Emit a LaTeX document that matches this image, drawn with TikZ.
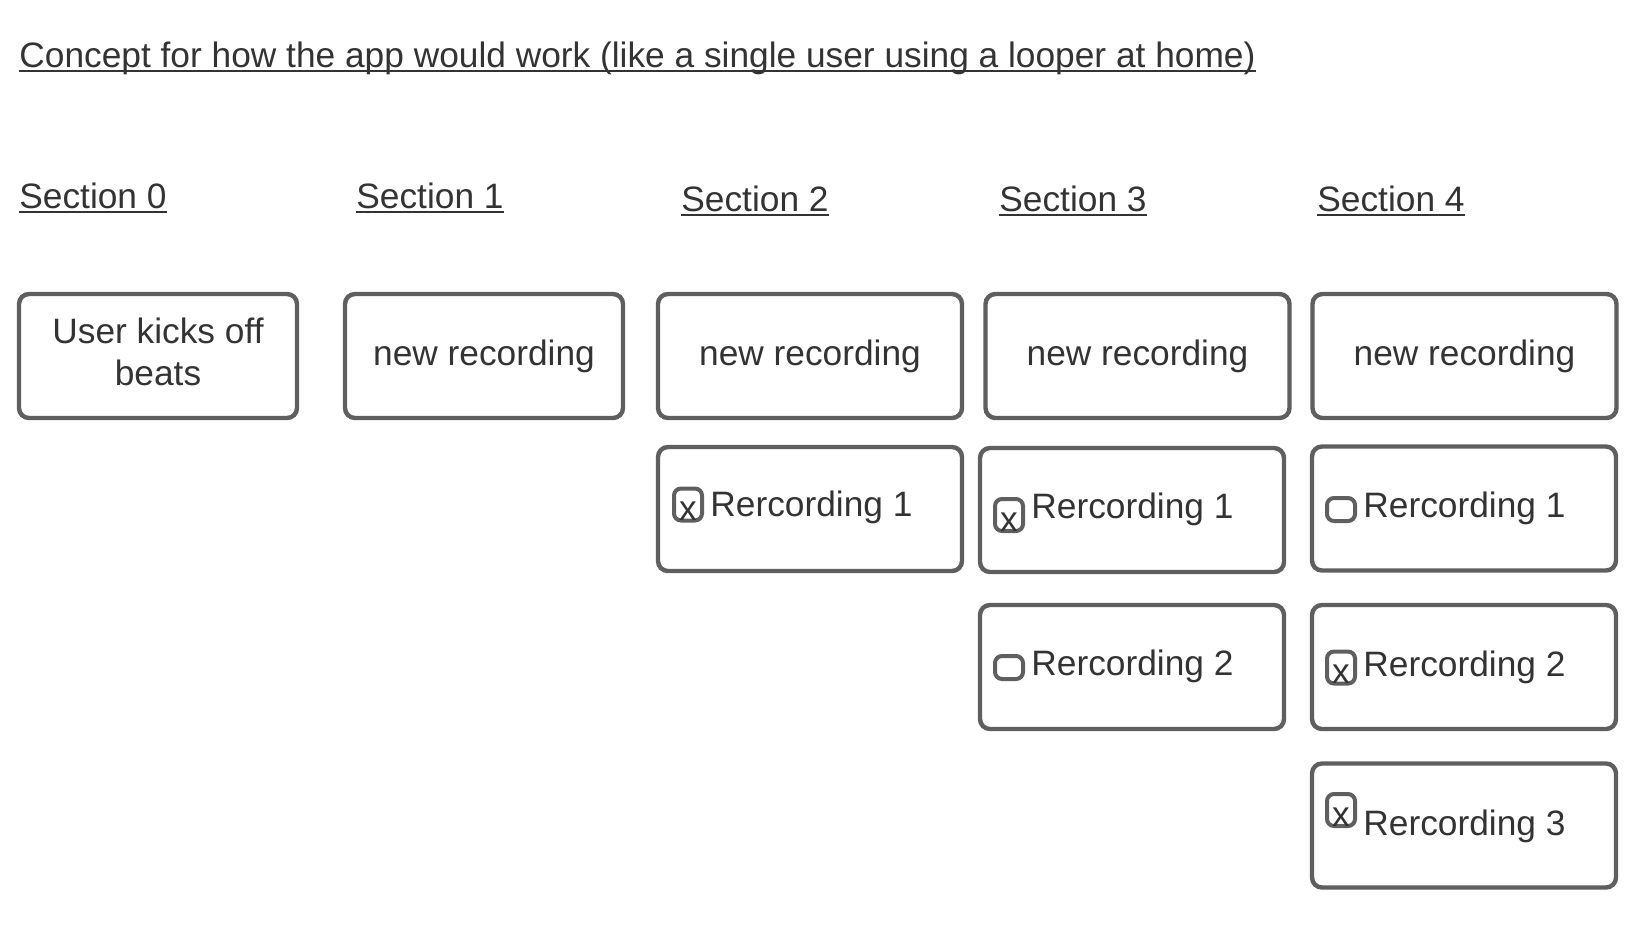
\documentclass[tikz,border=0pt]{standalone}
\usepackage{fontspec}
\setmainfont{Liberation Sans}
\usetikzlibrary{positioning}

\definecolor{ink}{HTML}{333333}
\definecolor{edge}{HTML}{5F5F5F}
\newcommand{\hdr}[1]{\setbox0\hbox{#1}\rlap{\rule[-2.6pt]{\wd0}{1pt}}\box0}

\begin{document}
\begin{tikzpicture}[x=0.5pt, y=-0.5pt,
  every node/.style={font=\fontsize{17.65pt}{21pt}\selectfont, text=ink},
  box/.style={draw=edge, line width=2.2pt, rounded corners=5pt, minimum width=139pt, minimum height=62pt, align=center},
  wide/.style={box, minimum width=152pt},
  tick/.style={draw=edge, line width=2pt, rounded corners=3.5pt, inner sep=0pt, minimum width=14pt, minimum height=16pt, text height=16pt, text depth=0pt},
  blank/.style={draw=edge, line width=2pt, rounded corners=3.5pt, inner sep=0pt, minimum width=14pt, minimum height=11.5pt},
  rec/.style={anchor=base west, inner sep=0pt}]
\useasboundingbox (0,0) rectangle (1644,928);

\node[anchor=base west, inner sep=0pt] (T) at (19,67) {\hdr{Concept for how the app would work (like a single user using a looper at home)}};

\node[anchor=base west, inner sep=0pt] (S0) at (19,208)   {\hdr{Section 0}};
\node[anchor=base west, inner sep=0pt] (S1) at (356,208)  {\hdr{Section 1}};
\node[anchor=base west, inner sep=0pt] (S2) at (681,211)  {\hdr{Section 2}};
\node[anchor=base west, inner sep=0pt] (S3) at (999,211)  {\hdr{Section 3}};
\node[anchor=base west, inner sep=0pt] (S4) at (1317,211) {\hdr{Section 4}};

% first row
\node[box]  (B0) at (158,356)    {\raisebox{2pt}{\begin{tabular}{@{}c@{}}User kicks off\\beats\end{tabular}}};
\node[box]  (B1) at (484,356)    {new recording};
\node[wide] (B2) at (810,356)    {new recording};
\node[wide] (B3) at (1137.5,356) {new recording};
\node[wide] (B4) at (1464.5,356) {new recording};

% recordings
\node[wide] (R21) at (810,509)   {};
\node[wide] (R31) at (1132,510)  {};
\node[wide] (R32) at (1132,667)  {};
\node[wide] (R41) at (1464,508.5) {};
\node[wide] (R42) at (1464,667)  {};
\node[wide] (R43) at (1464,825.5) {};

\node[tick]  (C21) at (688,504.5) {x};
\node[tick]  (C31) at (1009,515)  {x};
\node[blank] (C32) at (1009,667.5) {};
\node[blank] (C41) at (1341,509.5) {};
\node[tick]  (C42) at (1341,667.5) {x};
\node[tick]  (C43) at (1341,810)  {x};

\node[rec] (L21) at (710,516)  {Rercording 1};
\node[rec] (L31) at (1031,518) {Rercording 1};
\node[rec] (L32) at (1031,675) {Rercording 2};
\node[rec] (L41) at (1363,517) {Rercording 1};
\node[rec] (L42) at (1363,676) {Rercording 2};
\node[rec] (L43) at (1363,835) {Rercording 3};
\end{tikzpicture}
\end{document}
